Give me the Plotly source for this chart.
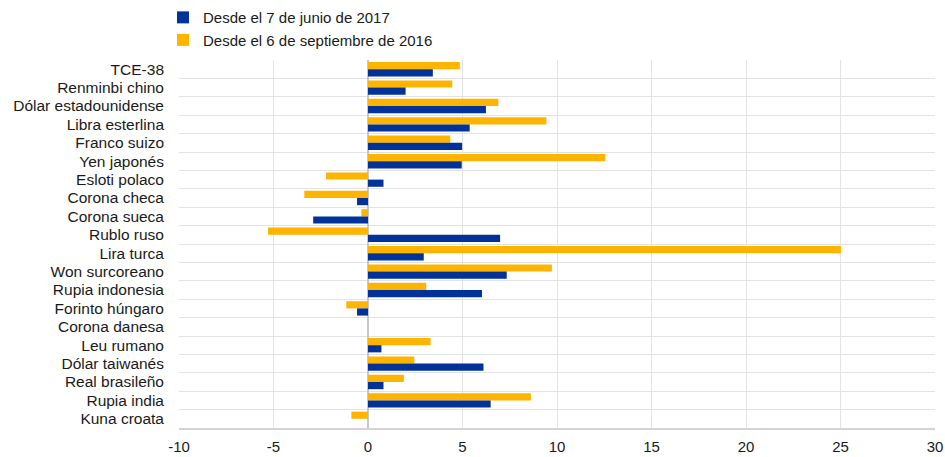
import plotly.graph_objects as go

categories = ["TCE-38", "Renminbi chino", "Dólar estadounidense", "Libra esterlina",
              "Franco suizo", "Yen japonés", "Esloti polaco", "Corona checa",
              "Corona sueca", "Rublo ruso", "Lira turca", "Won surcoreano",
              "Rupia indonesia", "Forinto húngaro", "Corona danesa", "Leu rumano",
              "Dólar taiwanés", "Real brasileño", "Rupia india", "Kuna croata"]

desde_2017 = [3.43, 1.99, 6.24, 5.38, 4.98, 4.96, 0.82, -0.58, -2.9, 6.99,
              2.95, 7.34, 6.03, -0.58, 0.0, 0.71, 6.11, 0.82, 6.49, 0.0]
desde_2016 = [4.86, 4.46, 6.9, 9.44, 4.35, 12.56, -2.22, -3.37, -0.35, -5.29,
              25.03, 9.73, 3.08, -1.15, 0.0, 3.31, 2.45, 1.9, 8.62, -0.88]

name_2017 = "Desde el 7 de junio de 2017"
name_2016 = "Desde el 6 de septiembre de 2016"

x_ticks = [-10, -5, 0, 5, 10, 15, 20, 25, 30]

fig = go.Figure()
fig.add_trace(go.Bar(y=categories, x=desde_2016, name=name_2016, orientation="h",
                     marker=dict(color="#FFB400", line=dict(width=0))))
fig.add_trace(go.Bar(y=categories, x=desde_2017, name=name_2017, orientation="h",
                     marker=dict(color="#003299", line=dict(width=0))))

fig.update_layout(
    width=945, height=457,
    margin=dict(l=179, r=10, t=60, b=29, autoexpand=False),
    paper_bgcolor="white", plot_bgcolor="white",
    font=dict(family="Liberation Sans, Arial, sans-serif", size=15, color="#1a1a1a"),
    barmode="group", bargap=0.22, bargroupgap=0,
    legend=dict(traceorder="reversed", orientation="v", x=-0.0212, xanchor="left",
                y=1.16, yanchor="top", font=dict(size=15),
                bgcolor="rgba(0,0,0,0)"),
    showlegend=True,
)
fig.update_xaxes(range=[-10, 30], tickvals=x_ticks, ticktext=[str(v) for v in x_ticks],
                 showgrid=True, gridcolor="#e3e3e3", gridwidth=1,
                 zeroline=True, zerolinecolor="#c8c8c8", zerolinewidth=2,
                 showline=True, linecolor="#d4d4d4", linewidth=2,
                 ticks="", ticklen=0, ticklabelstandoff=4,
                 tickfont=dict(size=15), fixedrange=True)
fig.update_yaxes(type="category", autorange="reversed", tickson="boundaries",
                 tickmode="array", tickvals=categories, ticktext=categories,
                 showgrid=True, gridcolor="#e3e3e3", gridwidth=1,
                 showline=False, ticks="", ticklabelstandoff=14,
                 tickfont=dict(size=15.5), fixedrange=True)

fig.write_html("out.html", config={"displayModeBar": False},
               post_script="document.body.style.margin='0';")
